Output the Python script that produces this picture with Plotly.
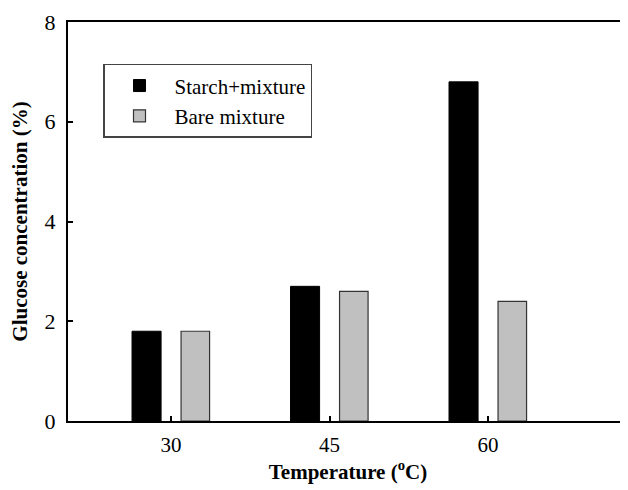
import plotly.graph_objects as go

temperatures = [30, 45, 60]
starch_mixture = [1.8, 2.7, 6.8]
bare_mixture = [1.8, 2.6, 2.4]
y_ticks = [0, 2, 4, 6, 8]

FONT = "Liberation Serif, Times New Roman, serif"

fig = go.Figure()
fig.add_trace(go.Bar(
    x=temperatures, y=starch_mixture, name="Starch+mixture",
    marker=dict(color="#000000", line=dict(color="#000000", width=1)),
    width=2.75, offset=-3.69,
))
fig.add_trace(go.Bar(
    x=temperatures, y=bare_mixture, name="Bare mixture",
    marker=dict(color="#c0c0c0", line=dict(color="#333333", width=1.2)),
    width=2.7, offset=0.95,
))

# page body adds an 8px margin; compensate so the plot area sits where the reference's does
fig.update_layout(
    width=620, height=482,
    margin=dict(l=60, r=0, t=14, b=69),
    paper_bgcolor="white", plot_bgcolor="white",
    font=dict(family=FONT, size=21, color="black"),
    barmode="overlay",
    showlegend=True,
    legend=dict(
        x=0.0625, y=0.895, xanchor="left", yanchor="top",
        bordercolor="#444444", borderwidth=1.5, bgcolor="white",
        font=dict(family=FONT, size=21),
        itemwidth=60, tracegroupgap=0,
    ),
    xaxis=dict(
        range=[20.25, 73.25], tickvals=temperatures,
        ticktext=[str(t) for t in temperatures],
        ticks="inside", ticklen=5, tickwidth=1.5, tickcolor="black",
        showline=True, linewidth=2, linecolor="black", mirror=True,
        showgrid=False, zeroline=False,
        tickfont=dict(family=FONT, size=21),
        ticklabelstandoff=4,
        title=dict(text="<b>Temperature (<sup>o</sup>C)</b>",
                   font=dict(family=FONT, size=21), standoff=6),
    ),
    yaxis=dict(
        range=[0, 8], tickvals=y_ticks,
        ticks="inside", ticklen=5, tickwidth=1.5, tickcolor="black",
        showline=True, linewidth=2, linecolor="black", mirror=False,
        showgrid=False, zeroline=False,
        tickfont=dict(family=FONT, size=22),
        ticklabelstandoff=6,
        title=dict(text="<b>Glucose concentration (%)</b>",
                   font=dict(family=FONT, size=21), standoff=14),
    ),
)

fig.write_html("out.html")
